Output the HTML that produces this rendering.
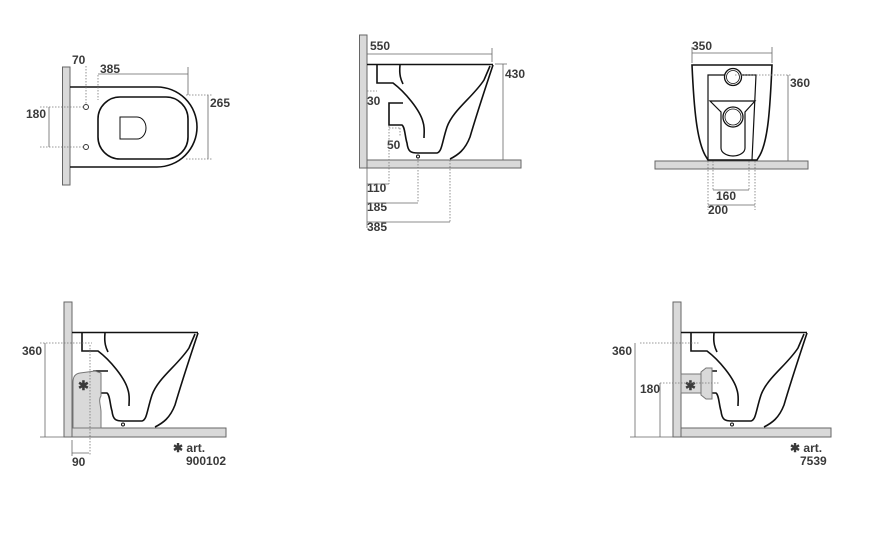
<!DOCTYPE html>
<html><head><meta charset="utf-8"><style>
html,body{margin:0;padding:0;background:#fff;}
svg{display:block;}
text{font-family:"Liberation Sans",sans-serif;font-weight:bold;font-size:12px;fill:#3a3a3a;}
.o{fill:none;stroke:#111;stroke-width:1.6;}
.g{fill:#d9d9d9;stroke:#666;stroke-width:1;}
.d{stroke:#666;stroke-width:0.8;fill:none;}
.dt{stroke:#777;stroke-width:0.8;stroke-dasharray:1.5 1.5;fill:none;}
</style></head><body>
<svg width="871" height="559" viewBox="0 0 871 559" xmlns="http://www.w3.org/2000/svg">
<defs>
<g id="prof">
<path class="o" d="M367,64.5 H493"/>
<path class="o" d="M377,65 V83 H393 C405,92 420,110 423,122 C425,128 424,133 424,138"/>
<path class="o" d="M400,65 C399,75 401,80 403,84"/>
<path class="o" d="M403,103 H389 V125 H402 C405,127 405,137 407,143 C408,152 411,153 418,153 L437,153 C442,152 442,142 447,127 C453,110 473,97 484,80 L490,66"/>
<path class="o" d="M493,65 C488,80 475,120 470,137 C465,150 458,155 450,159"/>
<circle cx="418" cy="156.5" r="1.5" fill="#fff" stroke="#111"/>
</g>
</defs>

<!-- Top-left plan view -->
<rect class="g" x="62.5" y="67" width="7.5" height="118"/>
<path class="o" d="M70,87 H157 A40,40 0 0 1 157,167 H70"/>
<rect class="o" x="98" y="97" width="90" height="62" rx="22"/>
<path class="o" d="M120,117 H137 A9,11 0 0 1 137,139 H120 Z" style="stroke-width:1"/>
<circle cx="86" cy="107" r="2.5" fill="#fff" stroke="#333"/>
<circle cx="86" cy="147" r="2.5" fill="#fff" stroke="#333"/>
<text x="72" y="64">70</text>
<path class="dt" d="M86,66 V105"/>
<text x="100" y="73">385</text>
<path class="d" d="M98,74 H188 M188,67 V95"/>
<path class="dt" d="M98,75 V100"/>
<text x="26" y="118">180</text>
<path class="d" d="M49,107 V147"/>
<path class="dt" d="M40,107 H84 M40,147 H84"/>
<text x="210" y="107">265</text>
<path class="d" d="M208,95 V159"/>
<path class="dt" d="M186,95 H212 M186,159 H212"/>

<!-- Top-middle side view -->
<rect class="g" x="359.5" y="35" width="7.5" height="133"/>
<rect class="g" x="367" y="160" width="154" height="8"/>
<use href="#prof"/>
<text x="370" y="50">550</text>
<path class="d" d="M367,54 H492 M492,48 V62"/>
<text x="505" y="78">430</text>
<path class="d" d="M503,64 V160 M495,64 H507"/>
<text x="367" y="105">30</text>
<path class="dt" d="M367,91 H377"/>
<text x="387" y="149">50</text>
<path class="dt" d="M389,128 H400 M400,128 V136"/>
<path class="d" d="M367,168 V228"/>
<text x="367" y="192">110</text>
<path class="d" d="M367,184 H389"/>
<path class="dt" d="M389,126 V184"/>
<text x="367" y="211">185</text>
<path class="d" d="M367,203 H418"/>
<path class="dt" d="M418,158 V203"/>
<text x="367" y="231">385</text>
<path class="d" d="M367,222 H450"/>
<path class="dt" d="M450,160 V222"/>

<!-- Top-right front view -->
<rect class="g" x="655" y="161" width="153" height="8"/>
<path class="o" d="M692,65 L772,65 C770,110 768,140 760,155 L757,160 L708,160 L705,155 C697,140 694,110 692,65 Z" style="fill:#fff"/>
<path class="o" d="M708,160 L708,75 H756 L752,160" style="stroke-width:1.2"/>
<circle cx="733" cy="77" r="8.5" fill="#fff" stroke="#111" stroke-width="1.3"/>
<circle cx="733" cy="77" r="6.5" fill="none" stroke="#111" stroke-width="0.8"/>
<path class="o" d="M710,101 H755 L745,112 V148 A12,8 0 0 1 721,148 V112 Z" style="stroke-width:1.2"/>
<circle cx="733" cy="117" r="10" fill="none" stroke="#111" stroke-width="1.3"/>
<circle cx="733" cy="117" r="8" fill="none" stroke="#111" stroke-width="0.8"/>
<text x="692" y="50">350</text>
<path class="d" d="M692,53 H772 M692,47 V63 M772,47 V63"/>
<text x="790" y="87">360</text>
<path class="d" d="M788,75 V161"/>
<path class="dt" d="M735,75 H792"/>
<path class="dt" d="M713,161 V190 M749,161 V190 M708,161 V210 M755,161 V210"/>
<path class="d" d="M713,190 H749 M708,205 H755"/>
<text x="716" y="200">160</text>
<text x="708" y="214">200</text>

<!-- Bottom-left -->
<rect class="g" x="64" y="302" width="8" height="135"/>
<rect class="g" x="72" y="428" width="154" height="9"/>
<g transform="translate(-295,268)"><use href="#prof"/></g>
<path d="M73,428 V382 Q73,374 80,373 L95,371 L101,373 L101,396 C98,400 101,406 101,412 V428 Z" fill="#d9d9d9" stroke="#777" stroke-width="1"/>
<text x="78" y="390" style="font-size:13px">✱</text>
<text x="22" y="355">360</text>
<path class="dt" d="M40,343 H92"/>
<path class="d" d="M45,343 V437 M40,437 H64"/>
<path class="dt" d="M90,345 V456"/>
<path class="d" d="M72,440 V456 M72,453 H89"/>
<text x="72" y="466">90</text>
<text x="173" y="452">✱ art.</text>
<text x="186" y="465">900102</text>

<!-- Bottom-right -->
<rect class="g" x="673" y="302" width="8" height="135"/>
<rect class="g" x="681" y="428" width="150" height="9"/>
<g transform="translate(314,268)"><use href="#prof"/></g>
<rect x="681" y="374" width="20" height="19" fill="#d9d9d9" stroke="#777"/>
<path d="M701,372 L706,368 H712 V399 H706 L701,395 Z" fill="#d9d9d9" stroke="#777"/>
<text x="685" y="390" style="font-size:13px">✱</text>
<text x="612" y="355">360</text>
<path class="dt" d="M640,343 H700"/>
<path class="d" d="M635,343 V437 M630,437 H673"/>
<text x="640" y="393">180</text>
<path class="dt" d="M660,383 H720"/>
<path class="d" d="M660,383 V437"/>
<text x="790" y="452">✱ art.</text>
<text x="800" y="465">7539</text>
</svg>
</body></html>
